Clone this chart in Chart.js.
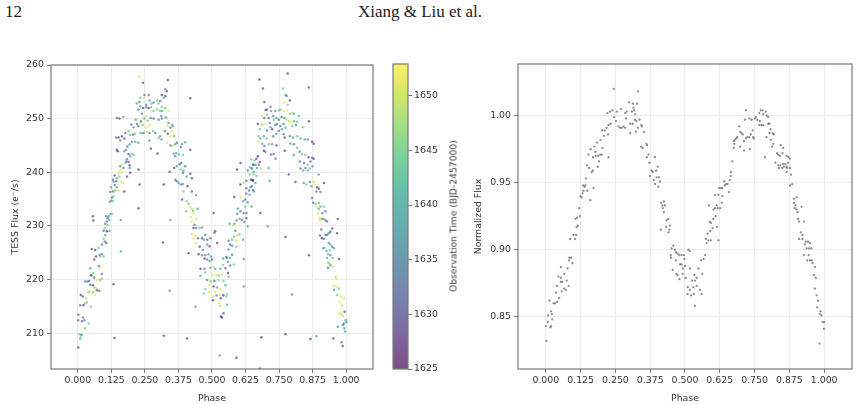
<!DOCTYPE html>
<html>
<head>
<meta charset="utf-8">
<script src="https://cdn.jsdelivr.net/npm/chart.js@4.4.1/dist/chart.umd.min.js"></script>
<style>
    body { margin: 0; background: #fff; }
    #page { position: relative; width: 860px; height: 404px; overflow: hidden; background: #fff; }
    #page canvas { position: absolute; top: 0; }
    .running { position: absolute; top: 2px; font: 17px "Liberation Serif", "Times New Roman", serif; color: #222; white-space: nowrap; }
    #cbarTitle { position: absolute; left: 453px; top: 216px; transform: translate(-50%, -50%) rotate(-90deg);
        font-family: "DejaVu Sans", sans-serif; font-size: 9.2px; font-weight: normal; color: #3a3a3a; white-space: nowrap; }
</style>
</head>
<body>
<div id="page">
    <div class="running" style="left:5px">12</div>
    <div class="running" style="left:420px; transform: translateX(-50%)">Xiang &amp; Liu et al.</div>
    <canvas id="fluxChart" width="380" height="404" style="left:0"></canvas>
    <canvas id="cbarChart" width="80" height="404" style="left:380px"></canvas>
    <canvas id="normChart" width="400" height="404" style="left:460px"></canvas>
    <div id="cbarTitle">Observation Time (BJD-2457000)</div>
</div>
<script>
// tick labels
const phaseTicks = [0, 0.125, 0.25, 0.375, 0.5, 0.625, 0.75, 0.875, 1];
const fluxTicks = [210, 220, 230, 240, 250, 260];
const normTicks = [0.85, 0.90, 0.95, 1.00];
const timeTicks = [1625, 1630, 1635, 1640, 1645, 1650];
const timeRange = [1625, 1652.9];

// left panel: [phase, flux e-/s, observation time]
const leftObs = [
    [0.002,207.3,1627],[0.009,209.0,1639],[0.012,209.5,1645],[0.006,209.8,1645],[0.015,209.7,1639],
    [0.001,212.4,1633],[0.019,212.9,1633],[0.015,212.2,1633],[0.024,212.4,1633],[0.026,210.9,1645],[0.040,211.8,1645],
    [0.002,213.4,1633],[0.009,215.2,1633],[0.021,215.2,1627],[0.027,215.5,1645],[0.034,215.7,1645],[0.049,214.9,1645],
    [0.011,217.1,1627],[0.019,216.8,1633],[0.031,216.5,1651],[0.040,217.6,1645],[0.044,217.9,1651],[0.052,217.4,1651],
    [0.058,217.7,1645],[0.065,217.1,1651],[0.071,218.0,1627],[0.080,217.9,1633],
    [0.046,219.0,1633],[0.056,218.9,1627],[0.062,218.5,1645],[0.068,218.3,1651],
    [0.027,219.6,1633],[0.036,219.6,1633],[0.042,219.7,1633],[0.052,220.7,1645],[0.061,220.3,1633],[0.071,219.9,1651],
    [0.083,219.9,1645],[0.090,220.2,1645],[0.049,220.8,1627],[0.046,222.1,1639],[0.058,221.2,1645],[0.081,222.2,1651],
    [0.090,221.0,1633],[0.078,222.5,1633],[0.061,223.7,1627],[0.068,224.3,1627],[0.083,224.3,1645],[0.096,224.3,1645],
    [0.081,224.6,1639],[0.090,224.7,1633],[0.052,225.7,1627],[0.065,225.5,1627],[0.077,225.9,1645],[0.090,226.5,1633],
    [0.100,227.1,1633],[0.106,226.8,1633],[0.096,227.6,1645],[0.102,228.3,1639],[0.096,229.1,1633],[0.108,229.0,1627],
    [0.100,229.6,1645],[0.111,230.1,1645],[0.118,229.1,1639],[0.102,230.4,1633],[0.108,230.8,1633],[0.117,231.1,1639],
    [0.105,231.8,1633],[0.114,231.8,1639],[0.121,232.2,1639],[0.127,232.2,1645],[0.111,231.4,1633],
    [0.160,231.1,1639],[0.056,231.8,1627],[0.058,231.0,1627],
    [0.123,234.7,1633],[0.131,234.6,1645],[0.118,234.4,1645],[0.127,235.3,1633],[0.133,235.5,1645],[0.120,236.3,1633],
    [0.131,236.4,1633],[0.139,236.6,1645],[0.152,236.6,1651],[0.173,236.4,1627],[0.124,237.2,1639],[0.137,237.6,1633],
    [0.145,237.2,1639],[0.133,238.2,1639],[0.143,238.3,1633],[0.131,238.6,1633],[0.145,238.9,1639],[0.162,238.2,1651],
    [0.170,238.0,1651],[0.155,239.2,1645],[0.137,239.4,1627],[0.152,239.9,1651],[0.164,239.9,1651],[0.183,239.2,1627],
    [0.170,240.8,1633],[0.158,240.3,1651],[0.158,241.1,1639],[0.193,240.8,1639],[0.164,241.5,1651],[0.177,241.7,1645],
    [0.180,242.0,1633],[0.189,241.9,1627],[0.193,241.3,1627],[0.183,242.4,1633],
    [0.195,239.9,1627],[0.226,240.5,1627],[0.230,237.7,1627],[0.226,233.3,1627],[0.317,226.9,1627],[0.133,219.1,1627],
    [0.137,209.1,1627],[0.320,209.5,1627],[0.160,225.2,1639],
    [0.195,243.0,1639],[0.201,243.4,1645],[0.208,243.2,1645],[0.189,243.4,1627],[0.173,243.9,1639],[0.180,244.2,1633],
    [0.185,244.8,1633],[0.193,245.2,1639],[0.201,245.7,1633],[0.214,245.7,1639],[0.226,245.5,1639],
    [0.158,245.9,1633],[0.152,246.5,1627],[0.164,246.7,1627],[0.173,246.3,1627],[0.145,244.2,1627],[0.149,243.9,1627],
    [0.143,246.5,1633],[0.177,247.3,1633],[0.189,247.7,1645],[0.195,247.0,1645],[0.205,247.0,1633],[0.214,247.2,1645],
    [0.235,247.3,1639],[0.245,247.3,1633],[0.257,247.5,1651],[0.267,247.3,1633],[0.280,247.7,1645],[0.289,247.3,1633],
    [0.301,246.4,1645],[0.307,246.7,1639],[0.320,247.7,1651],[0.272,244.4,1627],[0.297,243.5,1627],[0.266,245.9,1639],
    [0.208,248.4,1639],[0.226,248.6,1633],[0.242,248.8,1645],[0.255,248.4,1651],[0.267,248.8,1651],[0.220,249.0,1633],
    [0.233,249.2,1651],[0.199,248.9,1633],[0.218,249.8,1645],[0.235,249.5,1633],[0.248,250.0,1639],[0.260,249.6,1645],
    [0.272,250.1,1633],[0.282,250.0,1633],[0.301,249.8,1633],[0.313,250.0,1633],[0.326,250.3,1645],
    [0.146,250.1,1633],[0.155,250.0,1627],[0.245,250.0,1651],[0.257,250.5,1651],[0.239,250.9,1633],[0.282,251.4,1645],
    [0.295,251.7,1645],[0.305,251.4,1645],[0.313,251.4,1639],[0.226,251.7,1633],[0.243,252.0,1627],[0.255,252.1,1633],
    [0.264,252.0,1627],[0.272,252.1,1645],[0.233,252.3,1639],[0.220,252.8,1639],[0.255,252.6,1633],[0.274,252.8,1645],
    [0.267,253.4,1639],[0.245,253.8,1651],[0.233,253.9,1645],[0.230,253.1,1633],[0.282,253.0,1633],[0.307,253.3,1633],
    [0.320,253.9,1639],[0.313,254.4,1627],[0.326,254.2,1627],[0.301,252.8,1645],[0.295,253.4,1645],[0.248,254.4,1633],
    [0.264,254.4,1633],[0.243,256.7,1627],[0.229,257.8,1651],[0.170,250.3,1639],[0.214,249.8,1645],
    [0.335,257.2,1627],[0.332,255.1,1627],[0.326,255.5,1633],[0.419,253.8,1627],[0.313,252.2,1645],[0.322,251.5,1651],
    [0.338,251.5,1651],[0.326,252.0,1645],[0.311,250.5,1633],[0.330,250.1,1645],[0.338,249.2,1633],[0.351,248.9,1645],
    [0.345,248.3,1633],[0.354,248.6,1633],[0.335,248.6,1651],[0.326,247.7,1639],[0.335,247.2,1627],[0.351,247.7,1651],
    [0.357,247.0,1651],[0.345,246.7,1651],[0.359,246.7,1645],[0.311,246.1,1639],[0.332,245.5,1651],[0.345,245.0,1633],
    [0.354,244.9,1651],[0.363,245.2,1639],[0.369,245.5,1633],[0.388,245.2,1639],[0.400,245.6,1639],[0.384,244.7,1633],
    [0.419,244.2,1627],[0.357,243.4,1639],[0.367,243.6,1639],[0.376,243.3,1639],[0.392,243.2,1645],[0.363,243.0,1633],
    [0.379,241.5,1633],[0.385,241.7,1633],[0.369,241.1,1639],[0.400,241.1,1633],[0.359,240.8,1627],[0.382,240.5,1645],
    [0.394,240.3,1639],[0.342,240.1,1627],[0.392,239.9,1633],[0.419,239.7,1627],[0.406,239.2,1639],[0.425,238.9,1627],
    [0.363,238.6,1633],[0.369,238.3,1633],[0.376,238.0,1639],[0.384,237.7,1633],[0.392,237.8,1639],[0.409,237.4,1627],
    [0.320,237.7,1627],[0.394,236.4,1645],[0.425,236.4,1627],[0.441,235.7,1639],[0.388,234.9,1627],[0.406,234.6,1645],
    [0.413,234.1,1645],[0.419,233.4,1651],[0.425,233.2,1651],[0.446,233.2,1639],[0.404,232.7,1645],[0.429,232.8,1645],
    [0.431,232.4,1651],[0.345,231.1,1639],[0.425,230.8,1651],[0.441,231.3,1651],[0.421,231.6,1651],[0.435,230.2,1633],
    [0.441,229.6,1633],[0.454,229.6,1645],[0.463,229.7,1639],[0.431,229.6,1627],[0.506,232.4,1627],[0.512,229.0,1627],
    [0.509,228.7,1633],[0.425,228.5,1651],[0.438,228.2,1651],[0.448,227.7,1633],[0.463,227.7,1633],[0.475,228.3,1633],
    [0.469,227.4,1639],[0.482,227.4,1633],[0.494,227.7,1633],[0.431,227.6,1651],[0.441,226.8,1651],[0.454,226.1,1627],
    [0.466,225.5,1633],[0.482,226.5,1639],[0.491,226.2,1627],[0.519,226.8,1627],
    [0.413,224.9,1627],[0.450,224.7,1627],[0.463,224.5,1633],[0.475,224.5,1633],[0.487,224.7,1639],[0.496,224.3,1639],
    [0.472,223.9,1627],[0.482,223.7,1633],[0.491,223.4,1639],[0.500,223.7,1633],[0.457,222.0,1627],[0.472,222.0,1633],
    [0.494,222.2,1639],[0.506,222.4,1651],[0.512,222.0,1639],[0.531,222.0,1639],[0.541,222.7,1645],[0.550,222.1,1633],
    [0.457,220.7,1639],[0.475,221.3,1645],[0.501,220.8,1651],[0.517,220.8,1651],[0.525,220.7,1645],[0.537,220.9,1651],
    [0.560,221.2,1627],[0.482,219.9,1633],[0.494,219.6,1645],[0.509,219.7,1633],[0.525,219.9,1645],[0.543,219.7,1645],
    [0.562,220.5,1645],[0.491,219.0,1651],[0.506,218.7,1627],[0.519,218.5,1639],[0.531,218.2,1651],[0.550,218.9,1639],
    [0.475,218.2,1645],[0.489,217.7,1651],[0.469,217.4,1645],[0.512,217.7,1651],[0.529,217.2,1651],[0.543,217.1,1639],
    [0.556,217.2,1645],[0.504,216.8,1651],[0.517,217.0,1633],[0.533,216.5,1627],[0.541,217.0,1633],[0.553,216.8,1645],
    [0.525,215.6,1651],[0.504,216.1,1627],[0.556,215.3,1639],[0.531,215.1,1651],
    [0.438,214.9,1639],[0.543,213.7,1627],[0.537,212.9,1627],[0.533,213.1,1627],[0.342,217.9,1639],[0.618,218.7,1639],
    [0.407,209.0,1627],[0.529,205.8,1639],[0.591,205.4,1627],[0.618,223.8,1639],
    [0.553,224.2,1633],[0.566,224.0,1639],[0.575,224.6,1633],[0.562,225.6,1639],[0.541,223.9,1639],[0.559,223.3,1633],
    [0.581,222.8,1645],[0.568,222.6,1633],[0.556,224.0,1639],[0.568,226.5,1633],[0.575,226.3,1633],[0.591,226.1,1645],
    [0.562,227.2,1633],[0.575,227.4,1645],[0.591,227.2,1651],[0.583,228.0,1645],[0.595,228.3,1651],[0.603,228.4,1645],
    [0.616,227.4,1639],[0.587,229.1,1633],[0.566,230.4,1639],[0.578,230.0,1651],[0.583,230.4,1639],[0.591,231.0,1633],
    [0.603,231.3,1639],[0.612,231.1,1633],[0.621,230.7,1633],[0.628,231.4,1627],[0.633,229.9,1639],
    [0.594,232.2,1633],[0.606,232.7,1633],[0.618,232.4,1633],[0.628,232.4,1633],[0.596,233.2,1639],[0.583,235.4,1627],
    [0.608,235.4,1651],[0.616,234.6,1639],[0.624,234.9,1633],[0.633,234.4,1633],[0.624,233.6,1645],[0.628,236.0,1633],
    [0.640,235.8,1639],[0.606,237.7,1627],[0.618,238.0,1651],[0.628,238.4,1633],[0.638,236.6,1633],[0.643,237.2,1639],
    [0.646,238.6,1633],[0.653,238.6,1633],[0.628,237.0,1633],[0.640,239.6,1645],[0.643,240.9,1639],[0.655,240.1,1639],
    [0.653,241.4,1633],[0.646,242.4,1645],[0.633,240.3,1633],[0.606,241.7,1627],[0.593,240.5,1627],
    [0.782,258.4,1627],[0.677,257.3,1627],[0.690,255.6,1627],[0.861,255.8,1627],[0.765,255.6,1645],[0.774,254.4,1639],
    [0.778,254.2,1633],[0.695,253.1,1627],[0.790,253.4,1627],[0.768,253.0,1651],[0.782,252.6,1645],[0.718,252.2,1633],
    [0.700,251.6,1627],[0.705,251.7,1633],[0.720,251.4,1639],[0.736,251.4,1639],[0.749,251.5,1645],[0.755,251.7,1645],
    [0.768,251.4,1651],[0.780,251.5,1651],[0.790,250.9,1645],[0.799,251.1,1651],[0.823,250.5,1639],[0.805,250.9,1639],
    [0.687,250.5,1651],[0.695,250.1,1633],[0.705,250.7,1645],[0.711,250.1,1633],[0.728,250.5,1633],[0.730,249.8,1645],
    [0.740,250.1,1639],[0.749,249.8,1633],[0.759,250.3,1633],[0.770,250.1,1639],[0.778,249.8,1651],[0.786,249.6,1651],
    [0.792,249.4,1651],[0.805,249.5,1639],[0.817,249.4,1645],[0.861,249.5,1627],
    [0.671,249.0,1627],[0.699,249.0,1651],[0.687,248.9,1645],[0.715,249.2,1633],[0.718,248.4,1639],[0.736,248.8,1633],
    [0.742,249.0,1633],[0.755,248.6,1633],[0.767,249.0,1633],[0.761,248.0,1639],[0.774,248.3,1639],[0.799,248.6,1645],
    [0.813,248.8,1633],[0.840,248.4,1645],[0.678,248.0,1645],[0.705,247.8,1633],[0.724,248.0,1627],[0.749,247.7,1633],
    [0.740,247.2,1633],[0.767,247.1,1633],[0.673,246.7,1645],[0.693,246.7,1639],[0.680,246.3,1639],[0.703,246.3,1645],
    [0.728,246.7,1633],[0.771,246.5,1627],[0.790,246.7,1633],[0.802,246.5,1639],[0.817,246.7,1645],[0.830,246.3,1639],
    [0.845,246.1,1639],[0.857,246.1,1633],[0.873,245.7,1627],[0.879,245.3,1627],
    [0.674,245.7,1651],[0.687,245.3,1639],[0.695,244.9,1633],[0.711,245.2,1645],[0.724,245.2,1639],[0.740,245.0,1627],
    [0.792,245.3,1639],[0.805,245.2,1633],[0.817,244.5,1645],[0.771,244.0,1627],[0.693,244.0,1627],[0.699,243.8,1633],
    [0.720,243.3,1633],[0.730,243.4,1633],[0.827,243.8,1633],[0.805,243.2,1639],[0.836,243.4,1645],[0.848,243.2,1645],
    [0.860,242.8,1627],[0.873,242.7,1633],[0.879,242.5,1627],[0.737,242.5,1633],
    [0.671,243.0,1627],[0.665,242.5,1627],[0.678,241.9,1627],[0.658,242.2,1645],[0.653,241.4,1633],[0.662,241.4,1633],
    [0.649,240.7,1633],[0.668,240.8,1639],[0.674,241.4,1633],[0.683,240.7,1651],[0.711,240.8,1639],
    [0.827,242.0,1633],[0.843,241.7,1633],[0.857,241.4,1645],[0.867,242.0,1633],[0.848,240.8,1633],[0.865,240.7,1645],
    [0.830,240.7,1633],[0.840,240.3,1639],[0.857,240.3,1639],[0.874,241.1,1639],
    [0.786,239.6,1627],[0.656,239.6,1645],[0.666,239.3,1645],[0.647,238.6,1633],[0.653,238.4,1627],[0.662,238.0,1639],
    [0.714,238.4,1639],[0.811,238.2,1627],[0.842,238.0,1639],[0.852,237.7,1645],[0.865,238.2,1633],[0.879,238.2,1651],
    [0.885,237.7,1651],[0.898,239.6,1639],[0.917,238.0,1627],[0.870,237.4,1639],
    [0.649,237.4,1633],[0.656,236.4,1639],[0.653,236.7,1633],[0.892,237.2,1627],[0.889,236.4,1633],[0.904,236.3,1633],
    [0.898,236.9,1627],[0.873,235.2,1633],[0.877,234.3,1633],[0.647,233.6,1639],
    [0.886,234.1,1645],[0.898,234.2,1645],[0.889,233.6,1651],[0.904,233.6,1639],[0.917,233.6,1645],[0.898,233.2,1639],
    [0.895,232.3,1651],[0.911,232.4,1633],[0.923,232.7,1633],[0.902,231.4,1651],[0.911,231.3,1633],[0.917,231.3,1645],
    [0.969,231.3,1627],[0.680,232.4,1627],[0.923,231.0,1633],[0.929,230.8,1633],[0.902,231.1,1651],
    [0.708,229.9,1639],[0.907,229.3,1633],[0.948,229.5,1627],[0.935,228.6,1639],[0.941,228.9,1627],[0.923,228.3,1633],
    [0.929,228.3,1633],[0.966,228.6,1627],[0.902,228.2,1633],[0.910,227.7,1627],[0.917,227.6,1633],[0.774,227.9,1627],
    [0.935,226.8,1639],[0.941,226.5,1639],[0.948,226.1,1633],[0.954,225.8,1639],[0.914,225.8,1639],[0.919,225.9,1645],
    [0.927,225.3,1639],[0.939,225.5,1645],[0.861,224.5,1627],[0.932,224.7,1645],[0.941,224.5,1633],[0.929,224.0,1639],
    [0.950,224.0,1645],[0.973,223.8,1627],[0.934,223.1,1645],[0.941,222.8,1645],[0.951,222.4,1651],[0.941,222.6,1645],
    [0.932,222.2,1633],[0.960,220.5,1651],[0.964,220.2,1651],[0.954,218.8,1651],[0.964,218.6,1651],[0.955,218.1,1639],
    [0.973,218.3,1645],[0.966,217.1,1645],[0.979,216.8,1651],[0.976,215.9,1651],[0.991,216.5,1651],[0.984,215.1,1651],
    [0.798,217.2,1639],[0.994,214.0,1627],[0.973,213.7,1651],[0.982,213.5,1651],[0.988,213.2,1651],[0.998,212.4,1639],
    [0.991,211.8,1633],[1.001,212.0,1639],[0.993,210.9,1639],[0.988,211.5,1633],[0.996,210.3,1639],[0.969,211.2,1639],
    [0.983,208.3,1633],[0.987,207.6,1627],[0.952,209.0,1627],[0.774,209.8,1627],[0.867,208.9,1627],[0.889,209.4,1639],
    [0.684,209.2,1627],[0.678,203.4,1627]
];

// right panel: [phase, normalized flux]
const rightObs = [
    [0.000,0.843],[0.002,0.832],[0.016,0.842],[0.019,0.843],[0.007,0.846],[0.023,0.848],[0.008,0.851],[0.022,0.852],
    [0.019,0.854],[0.013,0.862],[0.028,0.860],[0.033,0.860],[0.040,0.861],[0.048,0.864],[0.036,0.868],[0.057,0.869],
    [0.066,0.871],[0.072,0.870],[0.040,0.873],[0.082,0.873],[0.054,0.876],[0.059,0.876],[0.075,0.877],[0.045,0.880],
    [0.054,0.879],[0.066,0.882],[0.054,0.887],[0.078,0.886],[0.083,0.892],[0.096,0.890],[0.085,0.894],[0.091,0.894],
    [0.087,0.908],[0.105,0.908],[0.099,0.911],[0.109,0.911],[0.115,0.918],[0.111,0.917],[0.122,0.925],[0.107,0.923],
    [0.112,0.924],[0.120,0.931],[0.129,0.939],[0.124,0.940],[0.132,0.942],[0.135,0.944],[0.139,0.947],[0.134,0.948],
    [0.142,0.948],[0.149,0.944],[0.171,0.946],[0.160,0.937],[0.145,0.953],[0.148,0.963],[0.155,0.961],[0.165,0.958],
    [0.169,0.959],[0.187,0.962],[0.153,0.971],[0.169,0.969],[0.179,0.970],[0.188,0.970],[0.195,0.971],[0.201,0.971],
    [0.191,0.966],[0.225,0.969],[0.161,0.975],[0.175,0.977],[0.178,0.973],[0.203,0.976],[0.183,0.980],[0.196,0.982],
    [0.209,0.985],[0.223,0.986],[0.202,0.989],[0.211,0.989],[0.219,0.991],[0.225,0.993],[0.233,0.994],[0.221,1.002],
    [0.231,1.003],[0.240,1.004],[0.244,1.020],[0.255,1.003],[0.245,0.999],[0.252,0.996],[0.261,0.992],[0.267,0.991],
    [0.273,0.991],[0.279,0.992],[0.270,1.005],[0.285,1.002],[0.291,1.003],[0.299,1.010],[0.309,1.003],[0.315,1.006],
    [0.288,0.998],[0.303,0.994],[0.312,0.994],[0.303,0.987],[0.285,0.991],[0.320,0.997],[0.323,0.988],
    [0.331,1.018],[0.313,1.009],[0.328,1.009],[0.317,1.004],[0.321,1.001],[0.337,0.997],[0.325,0.996],[0.343,0.993],
    [0.352,0.988],[0.331,0.991],[0.345,0.992],[0.361,0.979],[0.364,0.978],[0.342,0.977],[0.348,0.976],[0.369,0.971],
    [0.363,0.969],[0.392,0.969],[0.372,0.965],[0.380,0.959],[0.384,0.958],[0.374,0.955],[0.396,0.959],[0.402,0.962],
    [0.398,0.954],[0.407,0.954],[0.388,0.952],[0.410,0.951],[0.392,0.949],[0.404,0.947],[0.414,0.935],[0.424,0.936],
    [0.419,0.933],[0.428,0.933],[0.420,0.931],[0.424,0.928],[0.440,0.923],[0.434,0.922],[0.446,0.918],[0.432,0.917],
    [0.413,0.915],[0.444,0.915],[0.440,0.913],[0.458,0.903],[0.452,0.901],[0.464,0.900],[0.449,0.896],[0.450,0.894],
    [0.468,0.898],[0.474,0.897],[0.480,0.896],[0.467,0.892],[0.488,0.896],[0.496,0.896],[0.482,0.889],[0.488,0.889],
    [0.498,0.893],[0.500,0.888],[0.512,0.900],[0.517,0.899],[0.492,0.886],[0.456,0.885],[0.469,0.882],[0.473,0.881],
    [0.480,0.878],[0.492,0.882],[0.502,0.879],[0.518,0.886],[0.534,0.881],[0.526,0.877],[0.536,0.877],[0.542,0.879],
    [0.548,0.886],[0.510,0.872],[0.518,0.870],[0.530,0.872],[0.542,0.873],[0.509,0.867],[0.522,0.866],[0.532,0.867],
    [0.554,0.870],[0.560,0.867],[0.562,0.882],[0.536,0.858],[0.558,0.892],[0.567,0.893],[0.572,0.896],[0.575,0.908],
    [0.584,0.907],[0.593,0.907],[0.620,0.907],[0.578,0.905],[0.581,0.912],[0.591,0.914],[0.599,0.916],[0.593,0.920],
    [0.589,0.921],[0.615,0.917],[0.602,0.923],[0.610,0.925],[0.586,0.933],[0.602,0.930],[0.608,0.931],[0.617,0.931],
    [0.626,0.931],[0.614,0.933],[0.632,0.935],[0.608,0.941],[0.620,0.941],[0.634,0.940],[0.623,0.946],[0.629,0.946],
    [0.634,0.946],[0.643,0.948],[0.641,0.951],[0.648,0.949],[0.653,0.949],[0.658,0.943],[0.661,0.952],[0.665,0.955],
    [0.665,0.958],[0.670,0.966],[0.675,0.976],[0.677,0.979],[0.679,0.982],
    [0.676,0.981],[0.688,0.984],[0.684,0.983],[0.695,0.992],[0.698,0.988],[0.703,0.987],[0.707,0.986],[0.715,0.997],
    [0.719,1.004],[0.712,0.981],[0.719,0.983],[0.724,0.984],[0.698,0.977],[0.712,0.974],[0.731,0.998],[0.739,0.997],
    [0.751,0.998],[0.760,0.997],[0.755,0.999],[0.767,1.002],[0.772,1.004],[0.778,1.004],[0.781,1.001],[0.790,1.003],
    [0.794,1.000],[0.799,0.999],[0.767,0.993],[0.775,0.993],[0.781,0.993],[0.769,0.996],[0.736,0.986],[0.743,0.989],
    [0.731,0.984],[0.745,0.984],[0.733,0.975],[0.747,0.983],[0.799,0.994],[0.803,0.994],[0.807,0.990],[0.803,0.987],
    [0.815,0.987],[0.819,0.986],[0.793,0.984],[0.809,0.982],[0.787,0.969],[0.817,0.979],[0.813,0.977],[0.844,0.978],
    [0.853,0.976],[0.831,0.972],[0.835,0.971],[0.841,0.970],[0.850,0.972],[0.865,0.970],[0.872,0.969],[0.877,0.968],
    [0.825,0.965],[0.835,0.963],[0.843,0.963],[0.853,0.964],[0.861,0.964],[0.871,0.965],[0.837,0.961],[0.850,0.961],
    [0.856,0.962],[0.865,0.962],[0.867,0.961],[0.877,0.961],[0.865,0.958],[0.881,0.956],[0.877,0.948],[0.885,0.949],
    [0.891,0.938],[0.901,0.939],[0.892,0.935],[0.897,0.933],[0.894,0.931],[0.901,0.930],[0.904,0.928],[0.919,0.932],
    [0.906,0.923],[0.910,0.921],[0.927,0.921],[0.916,0.913],[0.922,0.911],[0.910,0.908],[0.922,0.908],[0.934,0.906],
    [0.942,0.906],[0.949,0.905],[0.930,0.904],[0.937,0.901],[0.946,0.901],[0.954,0.901],[0.927,0.896],[0.944,0.896],
    [0.939,0.892],[0.949,0.892],[0.955,0.892],[0.958,0.890],[0.967,0.887],[0.963,0.881],[0.970,0.879],[0.967,0.871],
    [0.973,0.866],[0.978,0.862],[0.975,0.857],[0.987,0.854],[0.990,0.851],[0.984,0.852],[0.994,0.846],[1.000,0.846],
    [0.999,0.841],[0.983,0.830]
];

const textColor = "#333333";
const spineColor = "#7a7a7a";
const gridColor = "#ebebeb";
const tickFont = { family: "DejaVu Sans", size: 9.4 };

const viridisStops = ["#440154", "#482475", "#414487", "#355f8d", "#2a788e", "#21918c",
    "#22a884", "#44bf70", "#7ad151", "#bddf26", "#fde725"];

function hexRgb(hex) {
    return [1, 3, 5].map(i => parseInt(hex.slice(i, i + 2), 16));
}

function viridis(frac, alpha) {
    const f = Math.min(1, Math.max(0, frac)) * (viridisStops.length - 1);
    const i = Math.min(viridisStops.length - 2, Math.floor(f));
    const a = hexRgb(viridisStops[i]);
    const b = hexRgb(viridisStops[i + 1]);
    const t = f - i;
    const c = a.map((v, k) => Math.round(v + (b[k] - v) * t));
    return `rgba(${c[0]},${c[1]},${c[2]},${alpha})`;
}

function timeFrac(t) {
    return (t - timeRange[0]) / (timeRange[1] - timeRange[0]);
}

// matplotlib-style box around the plot area
const framePlugin = {
    id: "frame",
    afterDraw(chart) {
        const { ctx, chartArea: a } = chart;
        ctx.save();
        ctx.strokeStyle = spineColor;
        ctx.lineWidth = 1.2;
        ctx.strokeRect(a.left, a.top, a.right - a.left, a.bottom - a.top);
        ctx.restore();
    }
};

function fixedTicks(values) {
    return scale => { scale.ticks = values.map(v => ({ value: v })); };
}

function axisTitle(text, padTop) {
    return { display: true, text: text, color: textColor, font: tickFont, padding: { top: padTop, bottom: 0 } };
}

function xPhaseAxis() {
    return {
        type: "linear", min: -0.1, max: 1.1,
        afterBuildTicks: fixedTicks(phaseTicks),
        afterFit: s => { s.height = 35; },
        ticks: { callback: v => v.toFixed(3), color: textColor, font: tickFont, padding: 2, maxRotation: 0, autoSkip: false },
        grid: { color: gridColor, tickColor: spineColor, tickLength: 4 },
        border: { display: false },
        title: axisTitle("Phase", 4)
    };
}

const noMotion = { animation: false, responsive: false, events: [] };

new Chart(document.getElementById("fluxChart"), {
    type: "scatter",
    data: {
        datasets: [{
            data: leftObs.map(p => ({ x: p[0], y: p[1] })),
            backgroundColor: leftObs.map(p => viridis(timeFrac(p[2]), 0.62)),
            pointRadius: 1.25,
            borderWidth: 0
        }]
    },
    options: {
        ...noMotion,
        layout: { padding: { top: 65, right: 7, left: 0, bottom: 0 } },
        plugins: { legend: { display: false }, tooltip: { enabled: false } },
        scales: {
            x: xPhaseAxis(),
            y: {
                type: "linear", min: 203.3, max: 260,
                afterBuildTicks: fixedTicks(fluxTicks),
                afterFit: s => { s.width = 51; },
                ticks: { callback: v => String(v), color: textColor, font: tickFont, padding: 3, autoSkip: false },
                grid: { color: gridColor, tickColor: spineColor, tickLength: 4 },
                border: { display: false },
                title: axisTitle("TESS Flux (e\u207B/s)", 10)
            }
        }
    },
    plugins: [framePlugin]
});

new Chart(document.getElementById("cbarChart"), {
    type: "bar",
    data: {
        labels: ["time"],
        datasets: [{
            data: [timeRange],
            barPercentage: 1,
            categoryPercentage: 1,
            borderWidth: 0,
            backgroundColor: ctx => {
                const area = ctx.chart.chartArea;
                if (!area) return null;
                const g = ctx.chart.ctx.createLinearGradient(0, area.bottom, 0, area.top);
                viridisStops.forEach((c, i) => g.addColorStop(i / (viridisStops.length - 1), viridis(i / (viridisStops.length - 1), 0.7)));
                return g;
            }
        }]
    },
    options: {
        ...noMotion,
        layout: { padding: { top: 64, right: 0, left: 13, bottom: 35 } },
        plugins: { legend: { display: false }, tooltip: { enabled: false } },
        scales: {
            x: { display: false },
            y: {
                position: "right", min: timeRange[0], max: timeRange[1],
                afterBuildTicks: fixedTicks(timeTicks),
                afterFit: s => { s.width = 52; },
                ticks: { callback: v => String(v), color: textColor, font: tickFont, padding: 2, autoSkip: false },
                grid: { drawOnChartArea: false, tickColor: spineColor, tickLength: 4 },
                border: { display: false }
            }
        }
    },
    plugins: [framePlugin]
});

new Chart(document.getElementById("normChart"), {
    type: "scatter",
    data: {
        datasets: [{
            data: rightObs.map(p => ({ x: p[0], y: p[1] })),
            backgroundColor: "rgba(110,110,110,0.8)",
            pointRadius: 1.15,
            borderWidth: 0
        }]
    },
    options: {
        ...noMotion,
        layout: { padding: { top: 64, right: 8, left: 0, bottom: 0 } },
        plugins: { legend: { display: false }, tooltip: { enabled: false } },
        scales: {
            x: xPhaseAxis(),
            y: {
                type: "linear", min: 0.811, max: 1.0386,
                afterBuildTicks: fixedTicks(normTicks),
                afterFit: s => { s.width = 58; },
                ticks: { callback: v => v.toFixed(2), color: textColor, font: tickFont, padding: 3, autoSkip: false },
                grid: { color: gridColor, tickColor: spineColor, tickLength: 4 },
                border: { display: false },
                title: axisTitle("Normalized Flux", 12.6)
            }
        }
    },
    plugins: [framePlugin]
});
</script>
</body>
</html>
